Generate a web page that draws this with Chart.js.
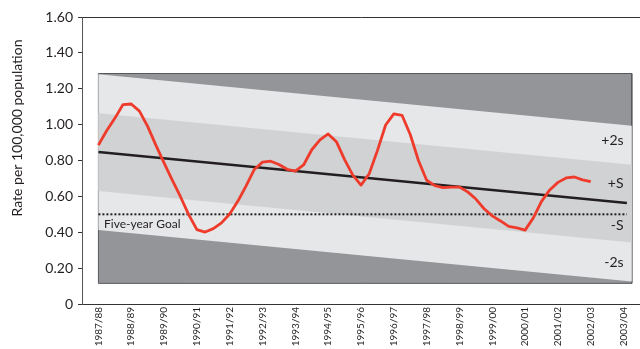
<!DOCTYPE html>
<html lang="en">
<head>
  <meta charset="UTF-8" />
  <title>Rate per 100,000 population</title>
  <script src="https://cdn.jsdelivr.net/npm/chart.js"></script>
  <style>
    body { margin: 0; background: #fff; }
    .chart-wrap { width: 640px; height: 349px; position: relative; }
  </style>
</head>
<body>
  <div class="chart-wrap">
    <canvas id="chart"></canvas>
  </div>

  <script>
    // financial years on the x axis
    const years = ['1987/88', '1988/89', '1989/90', '1990/91', '1991/92', '1992/93', '1993/94',
      '1994/95', '1995/96', '1996/97', '1997/98', '1998/99', '1999/00', '2000/01', '2001/02',
      '2002/03', '2003/04'];

    // quarterly rate, starting at 1987/88 and ending at 2002/03
    const rate = [
      0.886, 0.966, 1.035, 1.112, 1.115, 1.075, 0.990, 0.886,
      0.787, 0.691, 0.598, 0.498, 0.415, 0.401, 0.420, 0.452,
      0.502, 0.574, 0.659, 0.750, 0.791, 0.796, 0.778, 0.751,
      0.741, 0.775, 0.860, 0.915, 0.948, 0.905, 0.805, 0.718,
      0.663, 0.726, 0.855, 0.998, 1.060, 1.052, 0.945, 0.800,
      0.690, 0.660, 0.649, 0.652, 0.652, 0.625, 0.585, 0.531,
      0.491, 0.463, 0.433, 0.424, 0.412, 0.480, 0.572, 0.636,
      0.678, 0.703, 0.708, 0.692, 0.682
    ];

    // linear trend and its standard deviation
    const trendX = [0, 16.1];
    const trendY = [0.847, 0.563];
    const bandX = [0, 16.25];
    const bandMid = [0.847, 0.560];
    const sigma = 0.217;
    const boxRange = [0.115, 1.285];
    const goal = 0.50;
    const yTicks = [0, 0.2, 0.4, 0.6, 0.8, 1.0, 1.2, 1.4, 1.6];

    const ink = '#231f20';
    const font = 'Lato, "Open Sans", sans-serif';

    const ratePoints = rate.map((v, i) => ({ x: i / 4, y: v }));

    // closed polygon between trend + lo*sigma and trend + hi*sigma
    function band(lo, hi) {
      return [
        { x: bandX[0], y: bandMid[0] + hi * sigma },
        { x: bandX[1], y: bandMid[1] + hi * sigma },
        { x: bandX[1], y: bandMid[1] + lo * sigma },
        { x: bandX[0], y: bandMid[0] + lo * sigma },
        { x: bandX[0], y: bandMid[0] + hi * sigma }
      ];
    }

    const box = [
      { x: bandX[0], y: boxRange[0] }, { x: bandX[0], y: boxRange[1] },
      { x: bandX[1], y: boxRange[1] }, { x: bandX[1], y: boxRange[0] },
      { x: bandX[0], y: boxRange[0] }
    ];

    const bandLabels = [
      { text: '+2s', x: 16.0, y: 0.909 },
      { text: '+S', x: 16.0, y: 0.674 },
      { text: '-S', x: 16.0, y: 0.440 },
      { text: '-2s', x: 16.0, y: 0.229 }
    ];

    const textPlugin = {
      id: 'chartText',
      afterDatasetsDraw(chart) {
        const { ctx, scales: { x, y } } = chart;
        ctx.save();
        ctx.fillStyle = ink;
        ctx.textBaseline = 'middle';
        ctx.font = '14px ' + font;
        ctx.textAlign = 'right';
        bandLabels.forEach(l => ctx.fillText(l.text, x.getPixelForValue(l.x), y.getPixelForValue(l.y)));
        ctx.font = '12px ' + font;
        ctx.textAlign = 'left';
        ctx.fillText('Five-year Goal', x.getPixelForValue(0.17), y.getPixelForValue(0.447));
        // y axis title
        ctx.font = '14px ' + font;
        ctx.textAlign = 'center';
        ctx.translate(17, 128);
        ctx.rotate(-Math.PI / 2);
        ctx.fillText('Rate per 100,000 population', 0, 0);
        ctx.restore();
      }
    };

    const ctx = document.getElementById('chart').getContext('2d');
    new Chart(ctx, {
      type: 'line',
      data: {
        datasets: [
          {
            data: ratePoints, borderColor: '#ee3b2b', borderWidth: 2.8,
            pointRadius: 0, fill: false, borderJoinStyle: 'round', order: 0
          },
          {
            data: trendX.map((v, i) => ({ x: v, y: trendY[i] })), borderColor: ink,
            borderWidth: 2.6, pointRadius: 0, fill: false, order: 1
          },
          {
            data: [{ x: trendX[0], y: goal }, { x: trendX[1], y: goal }], borderColor: ink,
            borderWidth: 2, borderDash: [2, 2], pointRadius: 0, fill: false, order: 2
          },
          {
            data: band(-1, 1), backgroundColor: '#d1d2d4', borderWidth: 0,
            pointRadius: 0, fill: 'shape', order: 3
          },
          {
            data: band(-2, 2), backgroundColor: '#e6e7e8', borderWidth: 0,
            pointRadius: 0, fill: 'shape', order: 4
          },
          {
            data: box, backgroundColor: '#939598', borderColor: '#58595b', borderWidth: 1,
            pointRadius: 0, fill: 'shape', order: 5
          }
        ]
      },
      options: {
        responsive: true,
        maintainAspectRatio: false,
        animation: false,
        devicePixelRatio: 1,
        layout: { padding: { top: 17, right: 0, left: 0, bottom: 0 } },
        plugins: { legend: { display: false }, tooltip: { enabled: false } },
        scales: {
          x: {
            type: 'linear',
            min: -0.5,
            max: 16.5,
            afterBuildTicks: s => { s.ticks = years.map((_, i) => ({ value: i })); },
            afterFit: s => { s.height = 45; },
            grid: { display: false, drawTicks: false },
            border: { display: true, color: '#333', width: 1 },
            ticks: {
              autoSkip: false, minRotation: 90, maxRotation: 90, padding: 3,
              color: ink, font: { family: font, size: 10 },
              callback: v => years[v]
            }
          },
          y: {
            min: 0,
            max: 1.6,
            afterBuildTicks: s => { s.ticks = yTicks.map(v => ({ value: v })); },
            afterFit: s => { s.width = 82; },
            grid: {
              color: c => (c.tick && c.tick.value === 1.6 ? '#333' : 'rgba(0,0,0,0)'),
              tickColor: '#333', tickLength: 4, drawOnChartArea: true
            },
            border: { display: true, color: '#555', width: 1 },
            ticks: {
              padding: 5, color: ink, font: { family: font, size: 14 },
              callback: v => (v === 0 ? '0' : v.toFixed(2))
            }
          }
        }
      },
      plugins: [textPlugin]
    });
  </script>
</body>
</html>
